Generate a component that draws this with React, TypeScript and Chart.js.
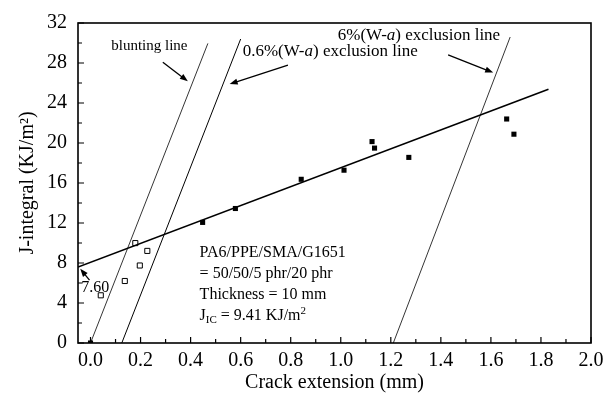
import React, { useEffect, useRef } from "react";
import { Chart, registerables } from "chart.js";

Chart.register(...registerables);

// ---- data ----
const xTickValues = [0, 0.2, 0.4, 0.6, 0.8, 1.0, 1.2, 1.4, 1.6, 1.8, 2.0];
const yTickValues = [0, 4, 8, 12, 16, 20, 24, 28, 32];

const filledX = [0, 0.448, 0.579, 0.842, 1.013, 1.125, 1.135, 1.272, 1.663, 1.692];
const filledY = [0, 12.06, 13.45, 16.37, 17.28, 20.14, 19.49, 18.56, 22.4, 20.88];

const openX = [0.041, 0.137, 0.179, 0.197, 0.227];
const openY = [4.77, 6.2, 9.99, 7.75, 9.21];

const fitX = [-0.05, 1.83];
const fitY = [7.6, 25.37];

const bluntX = [0, 0.469];
const bluntY = [0, 29.96];

const excl06X = [0.125, 0.6];
const excl06Y = [0, 30.4];

const excl6X = [1.21, 1.677];
const excl6Y = [0, 30.6];

const FONT = "'Liberation Serif', 'Times New Roman', serif";

// annotation anchors in data coordinates
const arrowsData = [
  { x1: 0.289, y1: 28.08, x2: 0.389, y2: 26.17 },
  { x1: 0.789, y1: 27.79, x2: 0.556, y2: 25.9 },
  { x1: 1.429, y1: 28.82, x2: 1.609, y2: 27.04 },
  { x1: -0.004, y1: 6.29, x2: -0.041, y2: 7.42 },
];

const pts = (xs: number[], ys: number[]) => xs.map((x, i) => ({ x, y: ys[i] }));

function drawArrow(ctx: CanvasRenderingContext2D, x1: number, y1: number, x2: number, y2: number) {
  const ang = Math.atan2(y2 - y1, x2 - x1);
  const hl = 8, hw = 3;
  const c = Math.cos(ang), s = Math.sin(ang);
  ctx.beginPath();
  ctx.moveTo(x1, y1);
  ctx.lineTo(x2 - hl * 0.7 * c, y2 - hl * 0.7 * s);
  ctx.stroke();
  ctx.beginPath();
  ctx.moveTo(x2, y2);
  ctx.lineTo(x2 - hl * c + hw * s, y2 - hl * s - hw * c);
  ctx.lineTo(x2 - hl * c - hw * s, y2 - hl * s + hw * c);
  ctx.closePath();
  ctx.fill();
}

type Seg = { t: string; size: number; italic?: boolean; dy?: number };
function drawSegs(ctx: CanvasRenderingContext2D, segs: Seg[], x: number, y: number) {
  let cx = x;
  for (const sg of segs) {
    ctx.font = `${sg.italic ? "italic " : ""}${sg.size}px ${FONT}`;
    ctx.fillText(sg.t, cx, y + (sg.dy || 0));
    cx += ctx.measureText(sg.t).width;
  }
}

const decor = {
  id: "decor",
  afterDraw(chart: any) {
    const { ctx, chartArea: a, scales } = chart;
    const xs = scales.x, ys = scales.y;
    const px = (v: number) => xs.getPixelForValue(v);
    const py = (v: number) => ys.getPixelForValue(v);
    ctx.save();
    ctx.strokeStyle = "#000";
    ctx.fillStyle = "#000";
    // frame
    ctx.lineWidth = 1.6;
    ctx.strokeRect(a.left, a.top, a.right - a.left, a.bottom - a.top);
    // inward ticks
    ctx.lineWidth = 1.2;
    ctx.beginPath();
    for (let i = 0; i <= 20; i++) {
      const p = px(i / 10);
      const len = i % 2 === 0 ? 6 : 4;
      ctx.moveTo(p, a.bottom);
      ctx.lineTo(p, a.bottom - len);
    }
    for (let v = 0; v <= 32; v += 2) {
      const p = py(v);
      const len = v % 4 === 0 ? 6 : 4;
      ctx.moveTo(a.left, p);
      ctx.lineTo(a.left + len, p);
    }
    ctx.stroke();

    // arrows
    ctx.lineWidth = 1.3;
    for (const ar of arrowsData) {
      drawArrow(ctx, px(ar.x1), py(ar.y1), px(ar.x2), py(ar.y2));
    }

    // texts
    ctx.textBaseline = "middle";
    ctx.textAlign = "left";
    drawSegs(ctx, [{ t: "blunting line", size: 15 }], px(0.083), py(29.72));
    drawSegs(
      ctx,
      [
        { t: "0.6%(W-", size: 17 },
        { t: "a", size: 17, italic: true },
        { t: ") exclusion line", size: 17 },
      ],
      px(0.608),
      py(29.15)
    );
    drawSegs(
      ctx,
      [
        { t: "6%(W-", size: 17 },
        { t: "a", size: 17, italic: true },
        { t: ") exclusion line", size: 17 },
      ],
      px(0.988),
      py(30.77)
    );
    drawSegs(ctx, [{ t: "7.60", size: 16 }], px(-0.037), py(5.56));

    const bx = px(0.436);
    drawSegs(ctx, [{ t: "PA6/PPE/SMA/G1651", size: 16 }], bx, py(9.05));
    drawSegs(ctx, [{ t: "= 50/50/5 phr/20 phr", size: 16 }], bx, py(6.94));
    drawSegs(ctx, [{ t: "Thickness = 10 mm", size: 16 }], bx, py(4.86));
    drawSegs(
      ctx,
      [
        { t: "J", size: 16 },
        { t: "IC", size: 11, dy: 4 },
        { t: " = 9.41 KJ/m", size: 16 },
        { t: "2", size: 11, dy: -5 },
      ],
      bx,
      py(2.72)
    );
    ctx.restore();
  },
};

export default function App() {
  const ref = useRef<HTMLCanvasElement>(null);
  useEffect(() => {
    const lineDs = (xs: number[], ys: number[], w: number) => ({
      type: "scatter" as const,
      data: pts(xs, ys),
      showLine: true,
      borderColor: "#000",
      borderWidth: w,
      pointRadius: 0,
      fill: false,
      tension: 0,
    });
    const chart = new Chart(ref.current!, {
      type: "scatter",
      data: {
        datasets: [
          lineDs(fitX, fitY, 1.6),
          lineDs(bluntX, bluntY, 0.8),
          lineDs(excl06X, excl06Y, 1.0),
          lineDs(excl6X, excl6Y, 0.8),
          {
            data: pts(filledX, filledY),
            pointStyle: "rect",
            pointRadius: 3.6,
            backgroundColor: "#000",
            borderColor: "#000",
            borderWidth: 0,
          } as any,
          {
            data: pts(openX, openY),
            pointStyle: "rect",
            pointRadius: 3.6,
            backgroundColor: "#fff",
            borderColor: "#000",
            borderWidth: 1,
          } as any,
        ],
      },
      options: {
        responsive: false,
        animation: false,
        layout: { padding: { top: 13, right: 23, left: 0, bottom: 0 } },
        plugins: { legend: { display: false }, tooltip: { enabled: false } },
        scales: {
          x: {
            type: "linear",
            min: -0.05,
            max: 2.0,
            afterBuildTicks: (s: any) => {
              s.ticks = xTickValues.map((v) => ({ value: v }));
            },
            afterFit: (s: any) => {
              s.height = 53;
            },
            grid: { display: false, drawTicks: false },
            border: { display: false },
            ticks: {
              color: "#000",
              padding: 6,
              maxRotation: 0,
              autoSkip: false,
              font: { family: FONT, size: 20 },
              callback: (v: any) => Number(v).toFixed(1),
            },
            title: {
              display: true,
              text: "Crack extension (mm)",
              color: "#000",
              font: { family: FONT, size: 20 },
              padding: { top: 0, bottom: 1 },
            },
          },
          y: {
            type: "linear",
            min: 0,
            max: 32,
            afterBuildTicks: (s: any) => {
              s.ticks = yTickValues.map((v) => ({ value: v }));
            },
            afterFit: (s: any) => {
              s.width = 78;
            },
            grid: { display: false, drawTicks: false },
            border: { display: false },
            ticks: {
              color: "#000",
              padding: 11,
              autoSkip: false,
              font: { family: FONT, size: 20 },
              callback: (v: any) => String(v),
            },
            title: {
              display: true,
              text: "J-integral (KJ/m²)",
              color: "#000",
              font: { family: FONT, size: 20 },
              padding: { top: 16, bottom: 0 },
            },
          },
        },
      },
      plugins: [decor],
    } as any);
    return () => chart.destroy();
  }, []);
  return (
    <div style={{ position: "fixed", left: 0, top: 0, width: 614, height: 396, background: "#fff" }}>
      <canvas ref={ref} width={614} height={396} style={{ display: "block" }} />
    </div>
  );
}
